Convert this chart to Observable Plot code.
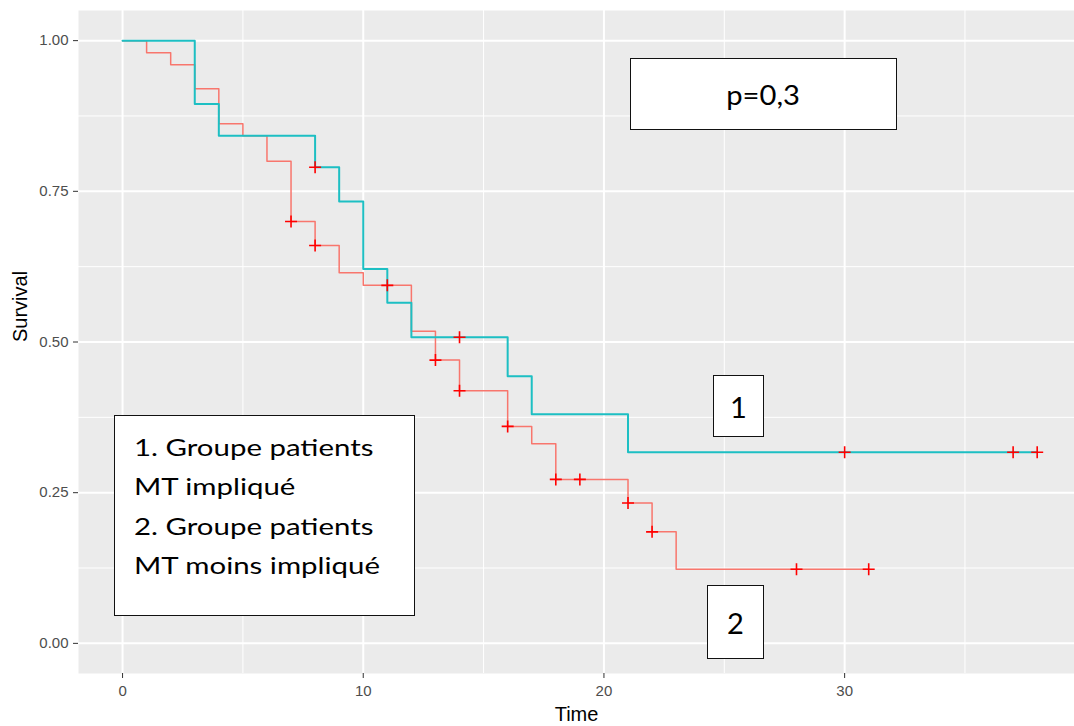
<!DOCTYPE html>
<html><head><meta charset="utf-8">
<script src="https://cdn.jsdelivr.net/npm/d3@7"></script>
<script src="https://cdn.jsdelivr.net/npm/@observablehq/plot@0.6"></script>
<style>
body{margin:0;background:#fff;}
#wrap{position:relative;width:1074px;height:726px;overflow:hidden;}
.box{position:absolute;background:#fff;border:1.6px solid #111;box-sizing:border-box;font-family:Lato,"Open Sans",sans-serif;color:#000;}
.center{display:flex;align-items:center;justify-content:center;}
.center span{display:inline-block;}
.legend{padding:11px 0 0 19px;line-height:39.3px;font-size:24px;}
.legend span{display:inline-block;transform:scaleX(1.225);transform-origin:left center;white-space:nowrap;}
</style></head><body><div id="wrap"></div>
<script>
// Group 1 (cyan) Kaplan-Meier curve
const time1 = [0, 3, 4, 8, 9, 10, 11, 12, 16, 17, 21, 38];
const surv1 = [1.0, 0.895, 0.842, 0.79, 0.733, 0.621, 0.565, 0.508, 0.443, 0.38, 0.317, 0.317];
const censTime1 = [8, 14, 30, 37, 38];
const censSurv1 = [0.79, 0.508, 0.317, 0.317, 0.317];
// Group 2 (red) Kaplan-Meier curve
const time2 = [0, 1, 2, 3, 4, 5, 6, 7, 8, 9, 10, 12, 13, 14, 16, 17, 18, 21, 22, 23, 31];
const surv2 = [1.0, 0.98, 0.96, 0.92, 0.862, 0.842, 0.80, 0.70, 0.66, 0.615, 0.594, 0.518, 0.47, 0.419, 0.36, 0.331, 0.272, 0.233, 0.185, 0.123, 0.123];
const censTime2 = [7, 8, 11, 13, 14, 16, 18, 19, 21, 22, 28, 31];
const censSurv2 = [0.70, 0.66, 0.594, 0.47, 0.419, 0.36, 0.272, 0.272, 0.233, 0.185, 0.123, 0.123];
// Axes
const xTicks = [0, 10, 20, 30];
const xMinor = [5, 15, 25, 35];
const yTicks = [0, 0.25, 0.5, 0.75, 1.0];
const yMinor = [0.125, 0.375, 0.625, 0.875];
const xTitle = "Time";
const yTitle = "Survival";
// Annotations
const pText = "p=0,3";
const legendLines = ["1. Groupe patients", "MT impliqué", "2. Groupe patients", "MT moins impliqué"];
const label1 = "1";
const label2 = "2";

const curve1 = time1.map((t, i) => ({time: t, surv: surv1[i]}));
const curve2 = time2.map((t, i) => ({time: t, surv: surv2[i]}));
const cens = censTime1.map((t, i) => ({time: t, surv: censSurv1[i]}))
  .concat(censTime2.map((t, i) => ({time: t, surv: censSurv2[i]})));

const plusSymbol = {
  draw(ctx, size) {
    const r = Math.sqrt(size / Math.PI);
    ctx.moveTo(-r, 0); ctx.lineTo(r, 0);
    ctx.moveTo(0, -r); ctx.lineTo(0, r);
  }
};

const chart = Plot.plot({
  width: 1074, height: 726,
  marginLeft: 78, marginRight: 0, marginTop: 10, marginBottom: 53,
  style: {fontFamily: "'Liberation Sans', Arial, sans-serif", background: "white", overflow: "visible"},
  x: {domain: [-1.83, 39.55]},
  y: {domain: [-0.05, 1.05]},
  marks: [
    Plot.frame({fill: "#EBEBEB", stroke: null}),
    Plot.gridX(xMinor, {stroke: "white", strokeOpacity: 1, strokeWidth: 1}),
    Plot.gridY(yMinor, {stroke: "white", strokeOpacity: 1, strokeWidth: 1}),
    Plot.gridX(xTicks, {stroke: "white", strokeOpacity: 1, strokeWidth: 2}),
    Plot.gridY(yTicks, {stroke: "white", strokeOpacity: 1, strokeWidth: 2}),
    Plot.line(curve2, {x: "time", y: "surv", curve: "step-after", stroke: "#F8766D", strokeWidth: 1.5}),
    Plot.line(curve1, {x: "time", y: "surv", curve: "step-after", stroke: "#1DBFC3", strokeWidth: 2}),
    Plot.dot(cens, {x: "time", y: "surv", symbol: plusSymbol, r: 6, stroke: "#FF0000", strokeWidth: 1.6}),
    Plot.axisX(xTicks, {tickSize: 5, tickPadding: 7, fontSize: 15, fill: "#4D4D4D", stroke: "#333333", label: null, tickFormat: d => String(d)}),
    Plot.axisY(yTicks, {tickSize: 5, tickPadding: 5, fontSize: 15, fill: "#4D4D4D", stroke: "#333333", label: null, tickFormat: d3.format(".2f")}),
    Plot.text([xTitle], {frameAnchor: "bottom", dy: 47, fontSize: 20, fill: "#000"}),
    Plot.text([yTitle], {frameAnchor: "left", dx: -58, rotate: -90, fontSize: 20, fill: "#000"})
  ]
});

const wrap = document.getElementById("wrap");
wrap.appendChild(chart);

function addBox(left, top, w, h, cls, html, fs) {
  const d = document.createElement("div");
  d.className = "box " + cls;
  d.style.left = left + "px"; d.style.top = top + "px";
  d.style.width = w + "px"; d.style.height = h + "px";
  if (fs) d.style.fontSize = fs + "px";
  d.innerHTML = html;
  wrap.appendChild(d);
  return d;
}
addBox(630, 58, 267, 72, "center", `<span style="transform:scaleX(1.08)">${pText}</span>`, 27);
addBox(114, 415, 301, 201, "legend", legendLines.map(l => `<span>${l}</span>`).join("<br>"));
addBox(713, 375, 51, 62, "center", `<span>${label1}</span>`, 29);
addBox(707, 585, 57, 74, "center", `<span>${label2}</span>`, 29);
</script>
</body></html>
